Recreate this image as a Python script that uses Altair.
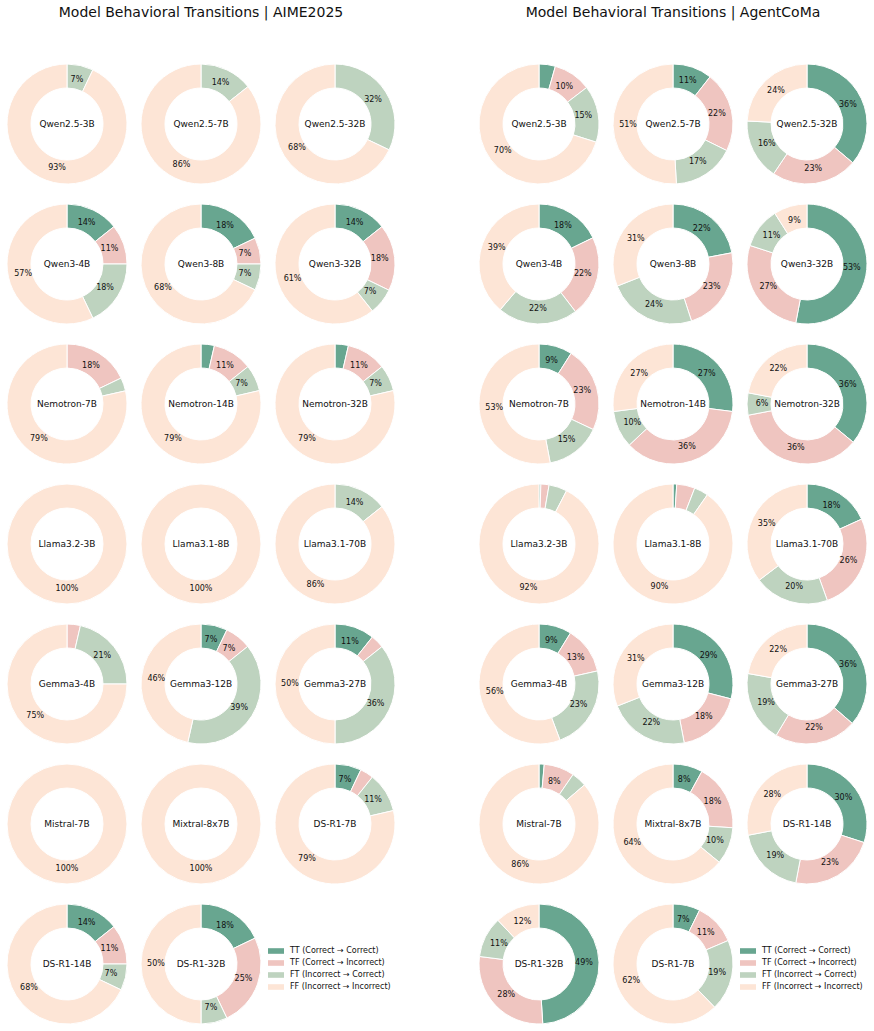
import math
import altair as alt
import pandas as pd

categories = ["TT (Correct → Correct)", "TF (Correct → Incorrect)",
              "FT (Incorrect → Correct)", "FF (Incorrect → Incorrect)"]
colors = ["#68a690", "#efc5c0", "#bed3bf", "#fde5d6"]

aime_models = ["Qwen2.5-3B", "Qwen2.5-7B", "Qwen2.5-32B",
               "Qwen3-4B", "Qwen3-8B", "Qwen3-32B",
               "Nemotron-7B", "Nemotron-14B", "Nemotron-32B",
               "Llama3.2-3B", "Llama3.1-8B", "Llama3.1-70B",
               "Gemma3-4B", "Gemma3-12B", "Gemma3-27B",
               "Mistral-7B", "Mixtral-8x7B", "DS-R1-7B",
               "DS-R1-14B", "DS-R1-32B"]
aime_tt = [0, 0, 0, 14.3, 17.9, 14.3, 0, 3.6, 3.6, 0, 0, 0, 0, 7.1, 10.7, 0, 0, 7.1, 14.3, 17.9]
aime_tf = [0, 0, 0, 10.7, 7.1, 17.9, 17.9, 10.7, 10.7, 0, 0, 0, 3.6, 7.1, 3.6, 0, 0, 3.6, 10.7, 25.0]
aime_ft = [7.1, 14.3, 32.1, 17.9, 7.1, 7.1, 3.6, 7.1, 7.1, 0, 0, 14.3, 21.4, 39.3, 35.7, 0, 0, 10.7, 7.1, 7.1]
aime_ff = [92.9, 85.7, 67.9, 57.1, 67.9, 60.7, 78.6, 78.6, 78.6, 100, 100, 85.7, 75.0, 46.4, 50.0, 100, 100, 78.6, 67.9, 50.0]

agent_models = ["Qwen2.5-3B", "Qwen2.5-7B", "Qwen2.5-32B",
                "Qwen3-4B", "Qwen3-8B", "Qwen3-32B",
                "Nemotron-7B", "Nemotron-14B", "Nemotron-32B",
                "Llama3.2-3B", "Llama3.1-8B", "Llama3.1-70B",
                "Gemma3-4B", "Gemma3-12B", "Gemma3-27B",
                "Mistral-7B", "Mixtral-8x7B", "DS-R1-14B",
                "DS-R1-32B", "DS-R1-7B"]
agent_tt = [4.4, 10.6, 36.2, 17.8, 22, 53, 9, 27, 36, 0.5, 1.0, 18.2, 8.8, 29, 36.4, 1.4, 8, 30, 49, 7.3]
agent_tf = [10.2, 21.7, 23.2, 21.8, 23, 27, 23, 36, 36, 2.2, 4.9, 26.3, 12.7, 18, 22.2, 8.2, 18, 23, 28, 11.3]
agent_ft = [15.3, 16.8, 16.4, 21.6, 24, 11, 15, 10, 6, 4.9, 3.8, 20.2, 22.8, 22, 19.2, 4.1, 10, 19, 11, 19.2]
agent_ff = [70.1, 50.9, 24.2, 38.8, 31, 9, 53, 27, 22, 92.4, 90.3, 35.3, 55.7, 31, 22.2, 86.3, 64, 28, 12, 62.2]


def long_df(models, tt, tf, ft, ff):
    rows = []
    for i, m in enumerate(models):
        for k, vals in enumerate([tt, tf, ft, ff]):
            rows.append({"model": m, "idx": i, "k": k, "cat": categories[k], "value": vals[i]})
    return pd.DataFrame(rows)


def panel(models, tt, tf, ft, ff, title):
    df = long_df(models, tt, tf, ft, ff)
    names = pd.DataFrame({"model": models, "idx": list(range(len(models)))})

    xenc = alt.X("col:Q", scale=alt.Scale(domain=[-0.5, 2.5], nice=False, zero=False), axis=None)
    yenc = alt.Y("row:Q", scale=alt.Scale(domain=[-0.5, 6.45], nice=False, zero=False, reverse=True), axis=None)
    theta_scale = alt.Scale(domain=[0, 1], range=[0, 2 * math.pi])

    base = (
        alt.Chart(df)
        .transform_filter("datum.value > 0")
        .transform_joinaggregate(total="sum(value)", groupby=["model"])
        .transform_window(cum="sum(value)", groupby=["model"],
                          sort=[alt.SortField("k", order="ascending")], frame=[None, 0])
        .transform_calculate(
            start="(datum.cum - datum.value) / datum.total",
            end="datum.cum / datum.total",
            mid="(datum.cum - datum.value / 2) / datum.total",
            pct="100 * datum.value / datum.total",
            col="datum.idx % 3",
            row="floor(datum.idx / 3)",
        )
        .transform_calculate(label="format(datum.pct, '.0f') + '%'")
    )

    arcs = base.mark_arc(outerRadius=60, innerRadius=36, stroke="white", strokeWidth=1).encode(
        x=xenc, y=yenc,
        theta=alt.Theta("start:Q", scale=theta_scale, stack=False),
        theta2=alt.Theta2("end:Q"),
        color=alt.Color("cat:N", scale=alt.Scale(domain=categories, range=colors),
                        legend=alt.Legend(title=None, orient="none", legendX=272, legendY=893,
                                          symbolType="M-2,-0.7L2,-0.7L2,0.7L-2,0.7Z",
                                          symbolSize=64, symbolStrokeWidth=0,
                                          labelFontSize=8, labelOffset=10, rowPadding=4,
                                          labelFont="DejaVu Sans", labelColor="#111111")),
    )

    pcts = base.transform_filter("datum.pct > 5").mark_text(
        radius=45, fontSize=8, color="#111111", font="DejaVu Sans"
    ).encode(
        x=xenc, y=yenc,
        theta=alt.Theta("mid:Q", scale=theta_scale, stack=False),
        text="label:N",
    )

    labels = alt.Chart(names).transform_calculate(
        col="datum.idx % 3", row="floor(datum.idx / 3)"
    ).mark_text(fontSize=9, color="#111111", font="DejaVu Sans").encode(
        x=xenc, y=yenc, text="model:N"
    )

    return alt.layer(arcs, pcts, labels).properties(
        width=402, height=973,
        title=alt.TitleParams(title, fontSize=14, fontWeight="normal", font="DejaVu Sans",
                              color="#111111", offset=34, anchor="middle"),
    )


left = panel(aime_models, aime_tt, aime_tf, aime_ft, aime_ff, "Model Behavioral Transitions | AIME2025")
right = panel(agent_models, agent_tt, agent_tf, agent_ft, agent_ff, "Model Behavioral Transitions | AgentCoMa")

chart = (
    alt.hconcat(left, right, spacing=70)
    .resolve_scale(x="independent", y="independent", color="independent")
    .resolve_legend(color="independent")
    .properties(padding={"top": 6, "left": 0, "right": 0, "bottom": 0})
    .configure(font="DejaVu Sans")
    .configure_view(strokeWidth=0)
)

chart.save("out.html", embed_options={"renderer": "svg", "actions": False})
